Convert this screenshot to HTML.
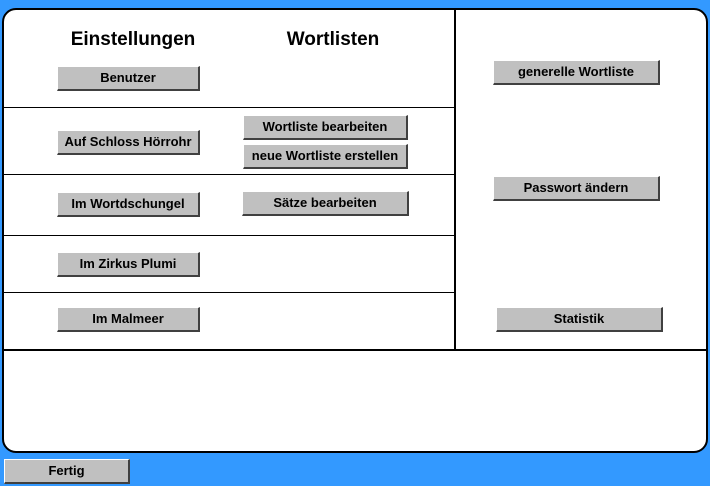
<!DOCTYPE html>
<html><head><style>
body{margin:0;width:710px;height:486px;background:#3399ff;position:relative;overflow:hidden;font-family:"Liberation Sans",sans-serif}
.panel{position:absolute;left:2px;top:8px;width:702px;height:441px;background:#fff;border:2px solid #000;border-radius:14px}
.l{position:absolute;background:#000}
.b{position:absolute;box-sizing:border-box;background:#c0c0c0;border-top:1px solid #fff;border-left:1px solid #fff;border-right:2px solid #404040;border-bottom:2px solid #404040;font-weight:bold;font-size:13px;text-align:center;line-height:21px;color:#000;white-space:nowrap}
.h{position:absolute;font-weight:bold;font-size:19px;text-align:center;width:200px}
</style></head><body>
<div class="panel"></div>
<div class="l" style="left:454px;top:9px;width:2px;height:342px"></div>
<div class="l" style="left:3px;top:349px;width:704px;height:2px"></div>
<div class="l" style="left:3px;top:107px;width:452px;height:1px"></div>
<div class="l" style="left:3px;top:174px;width:452px;height:1px"></div>
<div class="l" style="left:3px;top:235px;width:452px;height:1px"></div>
<div class="l" style="left:3px;top:292px;width:452px;height:1px"></div>
<div class="h" style="left:33px;top:29px">Einstellungen</div>
<div class="h" style="left:233px;top:29px">Wortlisten</div>
<div class="b" style="left:57px;top:66px;width:143px;height:25px">Benutzer</div>
<div class="b" style="left:57px;top:130px;width:143px;height:25px">Auf Schloss Hörrohr</div>
<div class="b" style="left:57px;top:192px;width:143px;height:25px">Im Wortdschungel</div>
<div class="b" style="left:57px;top:252px;width:143px;height:25px">Im Zirkus Plumi</div>
<div class="b" style="left:57px;top:307px;width:143px;height:25px">Im Malmeer</div>
<div class="b" style="left:243px;top:115px;width:165px;height:25px">Wortliste bearbeiten</div>
<div class="b" style="left:243px;top:144px;width:165px;height:25px">neue Wortliste erstellen</div>
<div class="b" style="left:242px;top:191px;width:167px;height:25px">Sätze bearbeiten</div>
<div class="b" style="left:493px;top:60px;width:167px;height:25px">generelle Wortliste</div>
<div class="b" style="left:493px;top:176px;width:167px;height:25px">Passwort ändern</div>
<div class="b" style="left:496px;top:307px;width:167px;height:25px">Statistik</div>
<div class="b" style="left:4px;top:459px;width:126px;height:25px">Fertig</div>
</body></html>
